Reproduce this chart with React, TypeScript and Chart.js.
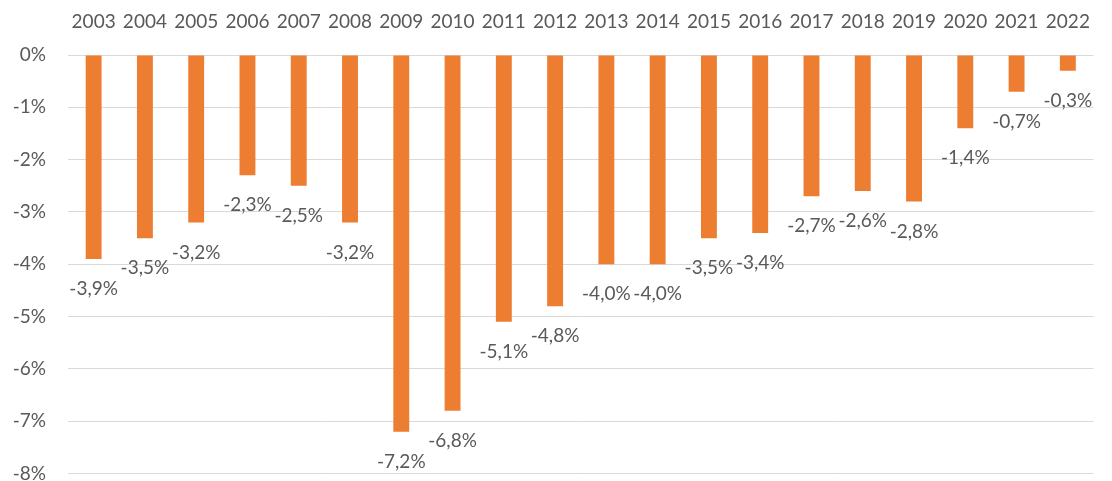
import React, { useEffect, useRef } from "react";
import { Chart, registerables } from "chart.js";

Chart.register(...registerables);

const years = ["2003","2004","2005","2006","2007","2008","2009","2010","2011","2012","2013","2014","2015","2016","2017","2018","2019","2020","2021","2022"];
const values = [-3.9,-3.5,-3.2,-2.3,-2.5,-3.2,-7.2,-6.8,-5.1,-4.8,-4.0,-4.0,-3.5,-3.4,-2.7,-2.6,-2.8,-1.4,-0.7,-0.3];
const yTicks = [0,-1,-2,-3,-4,-5,-6,-7,-8];

const FONT = "Lato, 'Liberation Sans', sans-serif";
const TEXT = "#595959";

const labelPlugin = {
  id: "barLabels",
  afterDatasetsDraw(chart: any) {
    const ctx = chart.ctx;
    const meta = chart.getDatasetMeta(0);
    ctx.save();
    ctx.font = `19px ${FONT}`;
    ctx.fillStyle = TEXT;
    ctx.textAlign = "center";
    ctx.textBaseline = "middle";
    meta.data.forEach((bar: any, i: number) => {
      const v = values[i];
      const txt = v.toFixed(1).replace(".", ",") + "%";
      ctx.fillText(txt, bar.x, bar.y + 30);
    });
    ctx.restore();
  },
};

export default function App() {
  const ref = useRef<HTMLCanvasElement | null>(null);
  useEffect(() => {
    document.body.style.margin = "0";
    const chart = new Chart(ref.current!, {
      type: "bar",
      data: {
        labels: years,
        datasets: [
          {
            data: values,
            backgroundColor: "#ED7D31",
            barPercentage: 0.31,
            categoryPercentage: 1,
          },
        ],
      },
      options: {
        animation: false,
        responsive: false,
        maintainAspectRatio: false,
        layout: { padding: { top: 0, right: 4, bottom: 0, left: 0 } },
        plugins: { legend: { display: false }, tooltip: { enabled: false } },
        scales: {
          x: {
            position: "top",
            grid: { display: false, drawTicks: false },
            border: { display: false },
            ticks: { color: TEXT, font: { family: FONT, size: 19 }, padding: 22, maxRotation: 0, autoSkip: false },
            afterFit: (s: any) => { s.height = 55; },
          },
          y: {
            min: -8,
            max: 0,
            afterBuildTicks: (s: any) => { s.ticks = yTicks.map((v) => ({ value: v })); },
            grid: { color: "#d9d9d9", drawTicks: false, lineWidth: 1 },
            border: { display: false },
            ticks: { color: TEXT, font: { family: FONT, size: 19 }, padding: 22, callback: (v: any) => `${v}%` },
            afterFit: (s: any) => { s.width = 68; },
          },
        },
      },
      plugins: [labelPlugin],
    });
    return () => chart.destroy();
  }, []);
  return (
    <div style={{ width: 1112, height: 481, overflow: "hidden" }}>
      <canvas ref={ref} width={1112} height={507} style={{ display: "block" }} />
    </div>
  );
}
